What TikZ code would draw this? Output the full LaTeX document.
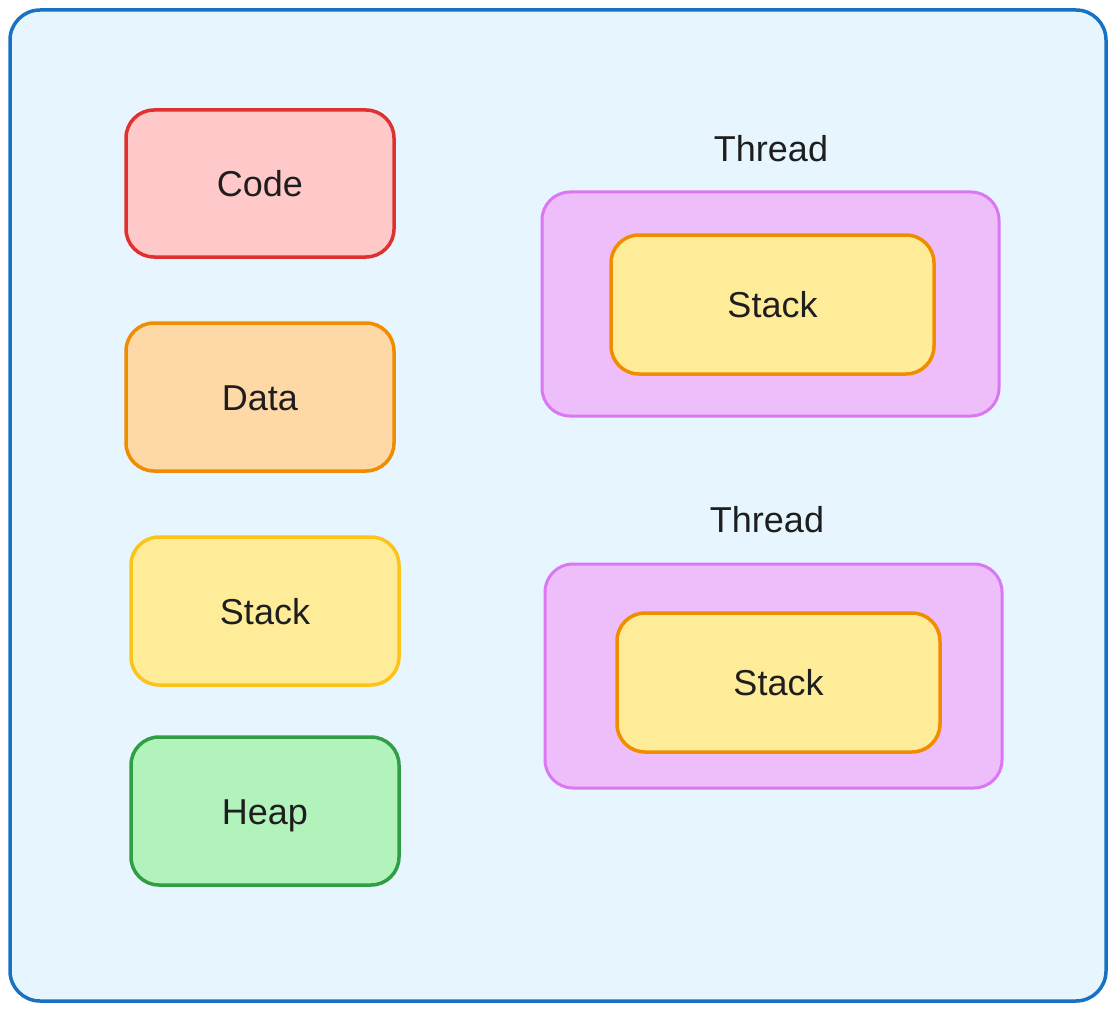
\documentclass[tikz,border=0pt]{standalone}
\usepackage{fontspec}
\setmainfont{Liberation Sans}
\definecolor{txt}{HTML}{1E1E1E}
\definecolor{bgfill}{HTML}{E7F5FF}
\definecolor{bgline}{HTML}{1971C2}
\definecolor{redfill}{HTML}{FFC9C9}
\definecolor{redline}{HTML}{E03131}
\definecolor{orfill}{HTML}{FFD8A8}
\definecolor{orline}{HTML}{F08C00}
\definecolor{yelfill}{HTML}{FFEC99}
\definecolor{yelline}{HTML}{FCC419}
\definecolor{grfill}{HTML}{B2F2BB}
\definecolor{grline}{HTML}{2F9E44}
\definecolor{vifill}{HTML}{EEBEFA}
\definecolor{viline}{HTML}{DA77F2}
\begin{document}
\begin{tikzpicture}[x=1pt,y=-1pt,
  box/.style={rectangle, rounded corners=28pt, line width=3.5pt, inner sep=0pt,
    font=\fontsize{36}{42}\selectfont, text=txt, text height=26pt, text depth=0pt},
  lbl/.style={font=\fontsize{36}{42}\selectfont, text=txt, inner sep=0pt, text height=26pt, text depth=0pt}]
\useasboundingbox (0,0) rectangle (1116,1011);
\node[box, draw=bgline, fill=bgfill, rounded corners=30pt, minimum width=1096pt, minimum height=991pt] (frame) at (558,505.5) {};
\node[box, draw=redline, fill=redfill, minimum width=268pt, minimum height=147pt] (code) at (260,183.5) {Code};
\node[box, draw=orline, fill=orfill, minimum width=268pt, minimum height=148pt] (data) at (260,397) {Data};
\node[box, draw=yelline, fill=yelfill, minimum width=268pt, minimum height=148pt] (stackL) at (265,611) {Stack};
\node[box, draw=grline, fill=grfill, minimum width=268pt, minimum height=148pt] (heap) at (265,811) {Heap};
\node[lbl] (t1) at (771,149) {Thread};
\node[box, draw=viline, fill=vifill, line width=3pt, minimum width=457pt, minimum height=224pt] (thr1) at (770.5,304) {};
\node[box, draw=orline, fill=yelfill, minimum width=323pt, minimum height=139pt] (st1) at (772.5,304.5) {Stack};
\node[lbl] (t2) at (767,519) {Thread};
\node[box, draw=viline, fill=vifill, line width=3pt, minimum width=457pt, minimum height=224pt] (thr2) at (773.5,676) {};
\node[box, draw=orline, fill=yelfill, minimum width=323pt, minimum height=139pt] (st2) at (778.5,682.5) {Stack};
\end{tikzpicture}
\end{document}
